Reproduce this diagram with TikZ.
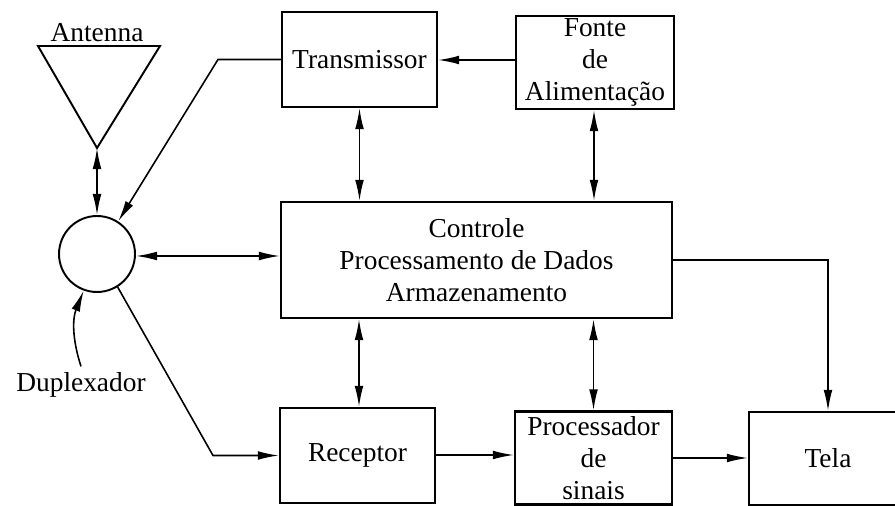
\documentclass[tikz,border=0pt]{standalone}
\usepackage{fontspec}
\setmainfont{Liberation Serif}
\usetikzlibrary{calc,shapes,positioning}
\usetikzlibrary{arrows.meta}

\begin{document}
\begin{tikzpicture}[x=0.02cm, y=-0.02cm, >={Latex[length=12pt,width=5pt]},
    font=\fontsize{15.6}{18.2}\selectfont]

    \clip (0,0) rectangle (895,506);
    \tikzstyle{bnode} = [line width=1.3pt, draw=black, rectangle, inner xsep = 2pt, inner ysep = 0pt, align=center]
    \tikzstyle{dnode} = [line width=1.1pt, draw=black, circle, minimum size = 1.52cm, inner sep = 0pt]
    \tikzstyle{conn} = [line width=0.9pt]

    % blocos
    \node[bnode, minimum width=3.1cm, minimum height=1.9cm] (tx) at (359.5,59.5) {Transmissor};
    \node[bnode, minimum width=3.16cm, minimum height=1.86cm] (fonte) at (595,62.5) {Fonte\\de\\Alimenta\c{c}\~ao};
    \node[bnode, minimum width=7.82cm, minimum height=2.32cm] (ctrl) at (476.5,260) {Controle\\Processamento de Dados\\Armazenamento};
    \node[bnode, minimum width=3.1cm, minimum height=1.9cm] (rx) at (357.5,455.5) {Receptor};
    \node[bnode, minimum width=3.14cm, minimum height=1.86cm] (proc) at (593.5,458) {Processador\\de\\sinais};
    \node[bnode, minimum width=3.16cm, minimum height=1.86cm] (tela) at (828,458.5) {Tela};

    % antena e duplexador
    \node[dnode] (dup) at (97,254) {};
    \coordinate (antl) at (38,46);
    \coordinate (antr) at (160,46);
    \coordinate (ant) at (97,148);
    \draw[line width=1.1pt] (antl) -- (antr) -- (ant) -- cycle;
    \node (antlab) at (97,33) {Antenna};
    \node (duplab) at (81,385) {Duplexador};

    \coordinate (txbend) at (218,59.5);
    \coordinate (rxbend) at (213,455.5);

    \draw[conn,->] (fonte.west |- 0,60) -- (tx.east |- 0,60);
    \draw[conn,<->] (tx.south) -- (tx.south |- ctrl.north);
    \draw[conn,<->] (fonte.south -| 594,0) -- (ctrl.north -| 594,0);
    \draw[conn,->] (tx.west) -- (txbend) -- (dup.57);
    \draw[conn,<->] (ant) -- (dup.north);
    \draw[conn,<->] (dup.east |- 0,256) -- (ctrl.west |- 0,256);
    \draw[conn,->] (dup.-58) -- (rxbend) -- (rx.west);
    \draw[conn,<->] (ctrl.south -| 359,0) -- (rx.north -| 359,0);
    \draw[conn,<->] (ctrl.south -| proc.north) -- (proc.north);
    \draw[conn,->] (rx.east |- 0,455) -- (proc.west |- 0,455);
    \draw[conn,->] (proc.east |- 0,458) -- (tela.west |- 0,458);
    \draw[conn,->] (ctrl.east |- 0,260) -| (tela.north);
    \draw[conn,->] (duplab.north) to[bend left=20] (dup.250);

\end{tikzpicture}
\end{document}
